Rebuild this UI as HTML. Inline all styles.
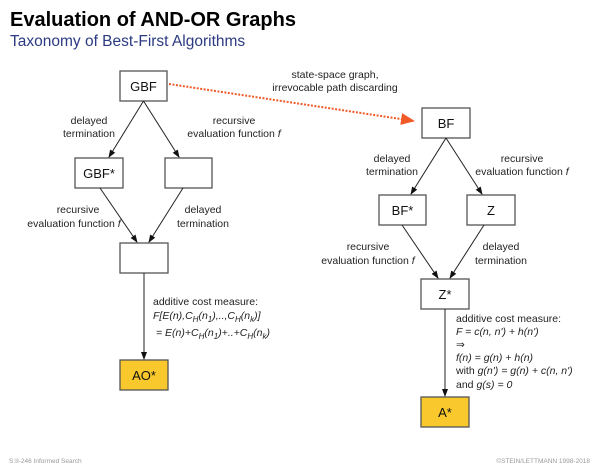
<!DOCTYPE html>
<html><head><meta charset="utf-8"><style>
html,body{margin:0;padding:0;background:#fff;}
svg{display:block;font-family:"Liberation Sans",sans-serif;}
.l{font-size:10.5px;fill:#222;}
.b{font-size:13px;fill:#111;}
</style></head><body>
<svg width="600" height="467" viewBox="0 0 600 467">
<defs>
<marker id="a" markerWidth="8" markerHeight="8" refX="7" refY="4" orient="auto" markerUnits="userSpaceOnUse"><path d="M0,1 L8,4 L0,7 z" fill="#111"/></marker>
<marker id="o" markerWidth="14" markerHeight="12" refX="13" refY="6" orient="auto" markerUnits="userSpaceOnUse"><path d="M0,0 L14,6 L0,12 z" fill="#f05a28"/></marker>
</defs>
<text x="10" y="26" font-size="20" font-weight="bold" fill="#000">Evaluation of AND-OR Graphs</text>
<text x="10" y="46" font-size="15.5" fill="#2b3a82">Taxonomy of Best-First Algorithms</text>

<g stroke="#555" stroke-width="1.3" fill="#fff">
<rect x="120" y="71" width="47" height="30"/>
<rect x="75" y="158" width="48" height="30"/>
<rect x="165" y="158" width="47" height="30"/>
<rect x="120" y="243" width="48" height="30"/>
<rect x="120" y="360" width="48" height="30" fill="#f8c82c"/>
<rect x="422" y="108" width="48" height="30"/>
<rect x="379" y="195" width="47" height="30"/>
<rect x="467" y="195" width="48" height="30"/>
<rect x="421" y="279" width="48" height="30"/>
<rect x="421" y="397" width="48" height="30" fill="#f8c82c"/>
</g>
<g class="b" text-anchor="middle">
<text x="143.5" y="91">GBF</text>
<text x="99" y="178">GBF*</text>
<text x="144" y="380">AO*</text>
<text x="446" y="128">BF</text>
<text x="402.5" y="215">BF*</text>
<text x="491" y="215">Z</text>
<text x="445" y="299">Z*</text>
<text x="445" y="417">A*</text>
</g>

<g stroke="#222" stroke-width="1" marker-end="url(#a)">
<line x1="143.5" y1="101" x2="109" y2="157"/>
<line x1="143.5" y1="101" x2="179" y2="157"/>
<line x1="100" y1="188" x2="137" y2="242"/>
<line x1="183" y1="188" x2="149" y2="242"/>
<line x1="144" y1="273" x2="144" y2="359"/>
<line x1="446" y1="138" x2="411" y2="194"/>
<line x1="446" y1="138" x2="482" y2="194"/>
<line x1="402" y1="225" x2="438" y2="278"/>
<line x1="484" y1="225" x2="450" y2="278"/>
<line x1="445" y1="309" x2="445" y2="396"/>
</g>
<line x1="169" y1="84" x2="414" y2="121" stroke="#f05a28" stroke-width="2" stroke-dasharray="2,1.5" marker-end="url(#o)"/>

<g class="l" text-anchor="middle">
<text x="335" y="78">state-space graph,</text>
<text x="335" y="91">irrevocable path discarding</text>
<text x="89" y="124">delayed</text>
<text x="89" y="137">termination</text>
<text x="234" y="124">recursive</text>
<text x="234" y="137">evaluation function <tspan font-style="italic">f</tspan></text>
<text x="78" y="213">recursive</text>
<text x="74" y="227">evaluation function <tspan font-style="italic">f</tspan></text>
<text x="203" y="213">delayed</text>
<text x="203" y="227">termination</text>
<text x="392" y="162">delayed</text>
<text x="392" y="175">termination</text>
<text x="522" y="162">recursive</text>
<text x="522" y="175">evaluation function <tspan font-style="italic">f</tspan></text>
<text x="368" y="250">recursive</text>
<text x="368" y="264">evaluation function <tspan font-style="italic">f</tspan></text>
<text x="501" y="250">delayed</text>
<text x="501" y="264">termination</text>
</g>
<g class="l">
<text x="153" y="305">additive cost measure:</text>
<text x="153" y="319" font-style="italic">F[E(n),C<tspan font-size="8" dy="3">H</tspan><tspan dy="-3">(n</tspan><tspan font-size="8" dy="3">1</tspan><tspan dy="-3">),..,C</tspan><tspan font-size="8" dy="3">H</tspan><tspan dy="-3">(n</tspan><tspan font-size="8" dy="3">k</tspan><tspan dy="-3">)]</tspan></text>
<text x="156" y="336" font-style="italic">= E(n)+C<tspan font-size="8" dy="3">H</tspan><tspan dy="-3">(n</tspan><tspan font-size="8" dy="3">1</tspan><tspan dy="-3">)+..+C</tspan><tspan font-size="8" dy="3">H</tspan><tspan dy="-3">(n</tspan><tspan font-size="8" dy="3">k</tspan><tspan dy="-3">)</tspan></text>
<text x="456" y="322">additive cost measure:</text>
<text x="456" y="335" font-style="italic">F = c(n, n') + h(n')</text>
<text x="456" y="348">⇒</text>
<text x="456" y="361" font-style="italic">f(n) = g(n) + h(n)</text>
<text x="456" y="374">with <tspan font-style="italic">g(n') = g(n) + c(n, n')</tspan></text>
<text x="456" y="388">and <tspan font-style="italic">g(s) = 0</tspan></text>
</g>
<text x="9" y="463" font-size="6.5" fill="#999">S:II-246    Informed Search</text>
<text x="590" y="463" font-size="6.5" fill="#999" text-anchor="end">©STEIN/LETTMANN 1998-2018</text>
</svg>
</body></html>
